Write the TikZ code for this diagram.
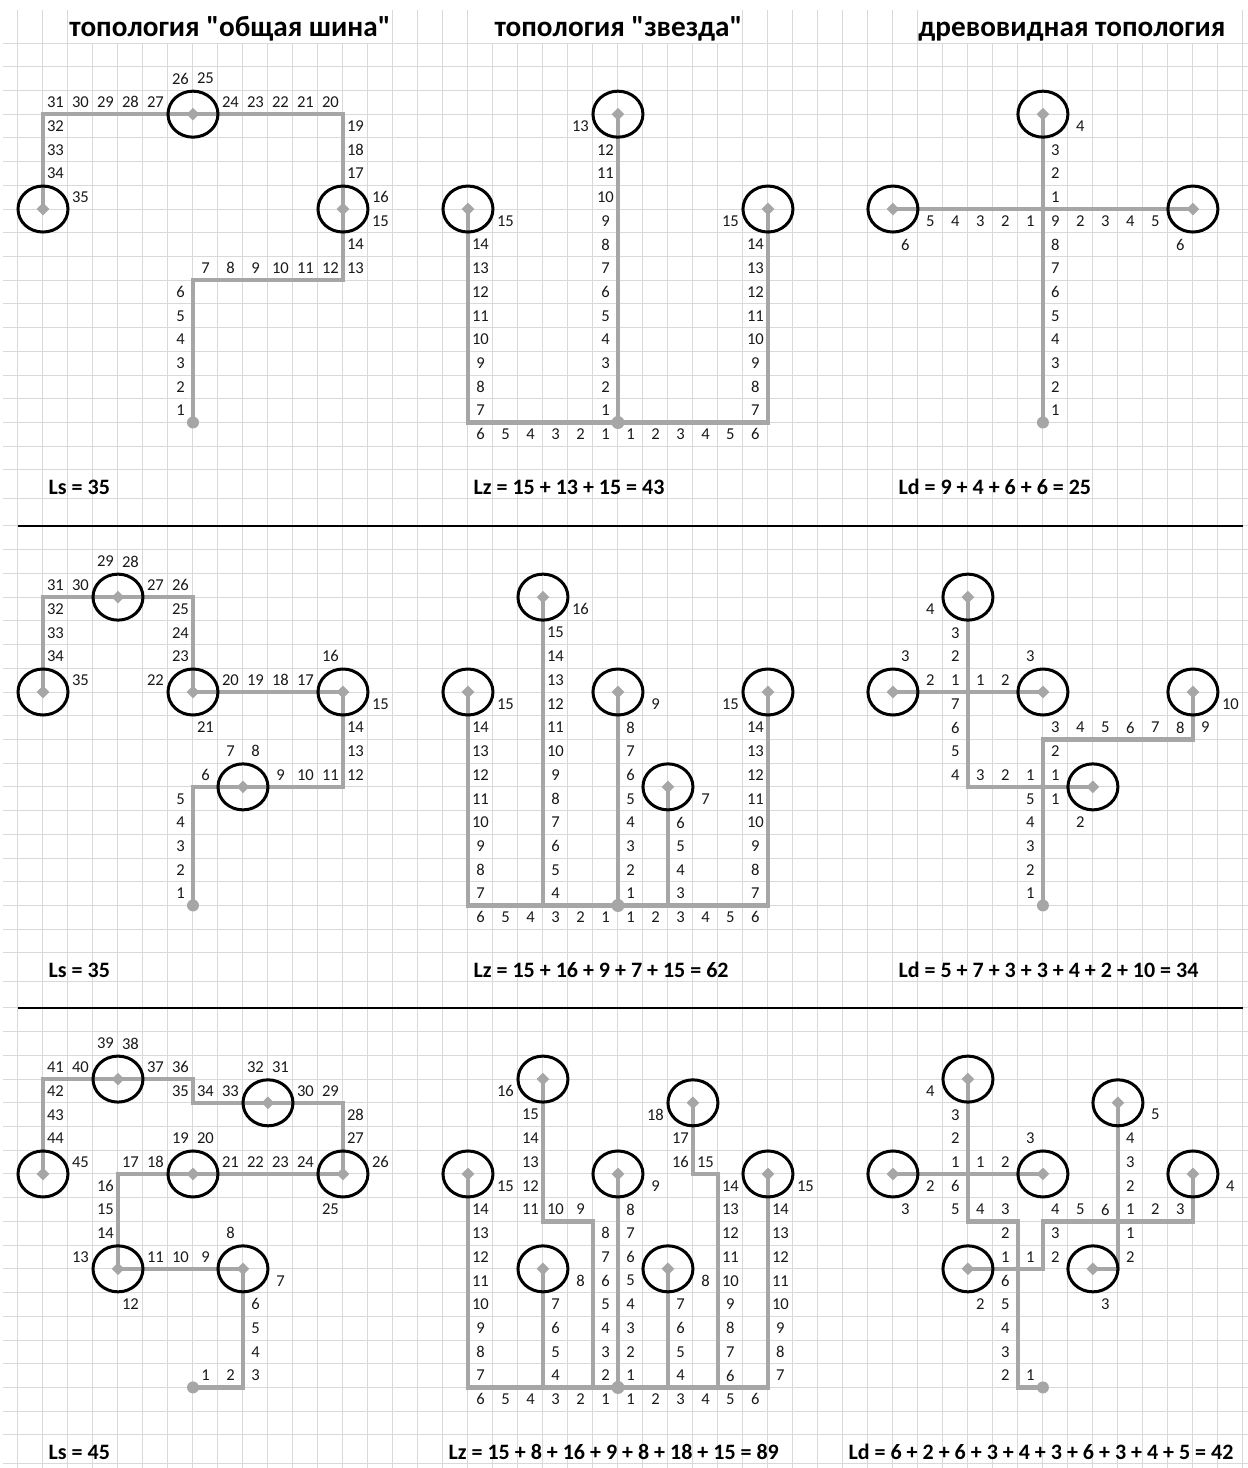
\documentclass[tikz,border=0pt]{standalone}
\usepackage{fontspec}
\setmainfont{Carlito}[Ligatures=TeXOff]
\usetikzlibrary{shapes.geometric}

\definecolor{cablegray}{RGB}{166,166,166}
\definecolor{gridgray}{RGB}{217,217,217}

\tikzset{
  gridline/.style={draw=gridgray, line width=0.5pt},
  sepline/.style={draw=black, line width=1pt},
  cable/.style={draw=cablegray, line width=2.2pt},
  pc/.style={ellipse, draw=black, line width=1.5pt, minimum width=25pt, minimum height=23pt, inner sep=0pt},
  hub/.style={diamond, fill=cablegray, minimum size=6.5pt, inner sep=0pt},
  junc/.style={diamond, fill=cablegray, minimum size=4.5pt, inner sep=0pt},
  enddot/.style={circle, fill=cablegray, minimum size=6pt, inner sep=0pt},
  num/.style={font=\fontsize{8.3}{9}\selectfont, text=black!90, inner sep=0pt},
  ttl/.style={font=\fontsize{14.6}{17}\selectfont\bfseries, anchor=base, inner sep=0pt},
  sumline/.style={font=\fontsize{11}{13}\selectfont\bfseries, anchor=base west, inner sep=0pt},
}

% cell labels: column, row, text
\newcommand\cellnum[3]{\node[num] (n#1-#2) at (#1+.5,#2+.5) {#3};}
% a run down a column: column, first row, list
\newcommand\colnums[3]{\foreach \val [count=\idx from 0] in {#3}
  {\node[num] (n#1-#2-\idx) at (#1+.5,#2+\idx+.5) {\val};}}
% a run along a row: row, first column, list
\newcommand\rownums[3]{\foreach \val [count=\idx from 0] in {#3}
  {\node[num] (m#1-#2-\idx) at (#2+\idx+.5,#1+.5) {\val};}}
% workstation on a named coordinate
\newcommand\station[1]{\node[pc] (#1-pc) at (#1) {}; \node[hub] (#1-hub) at (#1) {};}
% grid rows of one section
\newcommand\rowlines{\foreach \r in {0,...,18} {\draw[gridline] (-0.6,\r) -- (49.2,\r);}
  \draw[gridline] (-0.6,19.22) -- (49.2,19.22);}

\begin{document}
\begin{tikzpicture}[x=12.5pt,y=-11.86pt]
\useasboundingbox (-0.72,-1.813) rectangle (49.2,60.08);

%grid
\foreach \c in {0,...,49} {\draw[gridline] (\c,0) -- (\c,60.08);}
\foreach \c in {0,1,2,15,16,17,18,29,30,31,32,33,34,35,36,49} {\draw[gridline] (\c,-1.39) -- (\c,0);}

%titles
\node[ttl] (title-bus) at (8.48,-0.28) {топология "общая шина"};
\node[ttl] (title-star) at (24.02,-0.28) {топология "звезда"};
\node[ttl] (title-tree) at (42.16,-0.28) {древовидная топология};

%%%%% row 1
\rowlines
%bus
\coordinate (s1) at (1,7);
\coordinate (s2) at (7,3);
\coordinate (s3) at (13,7);
\coordinate (sk) at (7,10);
\coordinate (se) at (7,16);
\draw[cable] (s1) |- (s2) -| (s3) |- (sk) -- (se);
\foreach \p in {s1,s2,s3} {\station{\p}}
\node[enddot] (se-dot) at (se) {};
\rownums{1}{6}{26,25}
\rownums{2}{1}{31,30,29,28,27}
\rownums{2}{8}{24,23,22,21,20}
\colnums{1}{3}{32,33,34}
\cellnum{2}{6}{35}
\colnums{13}{3}{19,18,17}
\colnums{14}{6}{16,15}
\colnums{13}{8}{14,13}
\rownums{9}{7}{7,8,9,10,11,12}
\colnums{6}{10}{6,...,1}
%star
\coordinate (t0) at (24,16);
\coordinate (t1) at (18,7);
\coordinate (t2) at (24,3);
\coordinate (t3) at (30,7);
\draw[cable] (t1) |- (t0) -| (t3);
\draw[cable] (t2) -- (t0);
\foreach \p in {t1,t2,t3} {\station{\p}}
\node[enddot, minimum size=6.5pt] (t0-dot) at (t0) {};
\cellnum{22}{3}{13}
\colnums{23}{4}{12,...,1}
\cellnum{19}{7}{15}
\colnums{18}{8}{14,...,7}
\cellnum{28}{7}{15}
\colnums{29}{8}{14,...,7}
\rownums{16}{18}{6,5,4,3,2,1,1,2,3,4,5,6}
%tree
\coordinate (d1) at (41,3);
\coordinate (d2) at (35,7);
\coordinate (d3) at (47,7);
\coordinate (dj) at (41,7);
\coordinate (de) at (41,16);
\draw[cable] (d1) -- (de);
\draw[cable] (d2) -- (d3);
\foreach \p in {d1,d2,d3} {\station{\p}}
\node[junc] (dj-hub) at (dj) {};
\node[enddot] (de-dot) at (de) {};
\cellnum{42}{3}{4}
\colnums{41}{4}{3,2,1,9,8,7,6,5,4,3,2,1}
\rownums{7}{36}{5,4,3,2,1}
\rownums{7}{42}{2,3,4,5}
\cellnum{35}{8}{6}
\cellnum{46}{8}{6}
%sums
\node[sumline] (sum-bus1) at (1.21,19.05) {Ls = 35};
\node[sumline] (sum-star1) at (18.21,19.05) {Lz = 15 + 13 + 15 = 43};
\node[sumline] (sum-tree1) at (35.21,19.05) {Ld = 9 + 4 + 6 + 6 = 25};

%%%%% row 2
\begin{scope}[yshift=-241.5pt]
\rowlines
\draw[sepline] (0,0) -- (49,0);
%bus
\coordinate (b1) at (1,7);
\coordinate (b2) at (4,3);
\coordinate (b3) at (7,7);
\coordinate (b4) at (13,7);
\coordinate (b5) at (9,11);
\coordinate (bk) at (7,11);
\coordinate (be) at (7,16);
\draw[cable] (b1) |- (b2) -| (b3) -- (b4) |- (b5) -- (bk) -- (be);
\foreach \p in {b1,b2,b3,b4,b5} {\station{\p}}
\node[enddot] (be-dot) at (be) {};
\rownums{1}{3}{29,28}
\rownums{2}{1}{31,30}
\rownums{2}{5}{27,26}
\colnums{1}{3}{32,33,34}
\cellnum{2}{6}{35}
\colnums{6}{3}{25,24,23}
\cellnum{5}{6}{22}
\cellnum{7}{8}{21}
\rownums{6}{8}{20,19,18,17}
\cellnum{12}{5}{16}
\cellnum{14}{7}{15}
\colnums{13}{8}{14,13,12}
\rownums{10}{10}{9,10,11}
\rownums{9}{8}{7,8}
\cellnum{7}{10}{6}
\colnums{6}{11}{5,...,1}
%star
\coordinate (z0) at (24,16);
\coordinate (z1) at (18,7);
\coordinate (z2) at (21,3);
\coordinate (z3) at (24,7);
\coordinate (z4) at (26,11);
\coordinate (z5) at (30,7);
\draw[cable] (z1) |- (z0) -| (z5);
\foreach \p in {z2,z3,z4} {\draw[cable] (\p) -- (\p |- z0);}
\foreach \p in {z1,z2,z3,z4,z5} {\station{\p}}
\node[enddot, minimum size=6.5pt] (z0-dot) at (z0) {};
\cellnum{22}{3}{16}
\colnums{21}{4}{15,...,4}
\cellnum{19}{7}{15}
\colnums{18}{8}{14,...,7}
\cellnum{25}{7}{9}
\colnums{24}{8}{8,...,1}
\cellnum{27}{11}{7}
\colnums{26}{12}{6,...,3}
\cellnum{28}{7}{15}
\colnums{29}{8}{14,...,7}
\rownums{16}{18}{6,5,4,3,2,1,1,2,3,4,5,6}
%tree
\coordinate (w1) at (38,3);
\coordinate (w2) at (35,7);
\coordinate (w3) at (41,7);
\coordinate (w4) at (47,7);
\coordinate (w5) at (43,11);
\coordinate (wj1) at (38,7);
\coordinate (wj2) at (41,11);
\coordinate (wm) at (41,9);
\coordinate (we) at (41,16);
\draw[cable] (w2) -- (w3);
\draw[cable] (w1) |- (w5);
\draw[cable] (we) -- (wm) -| (w4);
\foreach \p in {w1,w2,w3,w4,w5} {\station{\p}}
\foreach \p in {wj1,wj2} {\node[junc] (\p-hub) at (\p) {};}
\node[enddot] (we-dot) at (we) {};
\cellnum{36}{3}{4}
\colnums{37}{4}{3,2,1,7,6,5,4}
\cellnum{35}{5}{3}
\cellnum{36}{6}{2}
\rownums{6}{38}{1,2}
\cellnum{40}{5}{3}
\rownums{10}{38}{3,2,1,1}
\rownums{8}{41}{3,4,5,6,7,8,9}
\cellnum{48}{7}{10}
\cellnum{41}{9}{2}
\rownums{11}{40}{5,1}
\cellnum{42}{12}{2}
\colnums{40}{12}{4,3,2,1}
%sums
\node[sumline] (sum-bus2) at (1.21,19.05) {Ls = 35};
\node[sumline] (sum-star2) at (18.21,19.05) {Lz = 15 + 16 + 9 + 7 + 15 = 62};
\node[sumline] (sum-tree2) at (35.21,19.05) {Ld = 5 + 7 + 3 + 3 + 4 + 2 + 10 = 34};
\end{scope}

%%%%% row 3
\begin{scope}[yshift=-482.5pt]
\rowlines
\draw[sepline] (0,0) -- (49,0);
%bus
\coordinate (q1) at (4,3);
\coordinate (q2) at (10,4);
\coordinate (q3) at (1,7);
\coordinate (q4) at (7,7);
\coordinate (q5) at (13,7);
\coordinate (q6) at (4,11);
\coordinate (q7) at (9,11);
\coordinate (qb) at (7,4);
\coordinate (qc) at (4,7);
\coordinate (qe) at (7,16);
\draw[cable] (q3) |- (q1) -| (qb) -- (q2) -| (q5) -- (qc) -- (q6) -- (q7) |- (qe);
\foreach \p in {q1,q2,q3,q4,q5,q6,q7} {\station{\p}}
\node[enddot] (qe-dot) at (qe) {};
\rownums{1}{3}{39,38}
\rownums{2}{1}{41,40}
\rownums{2}{5}{37,36}
\rownums{2}{9}{32,31}
\colnums{1}{3}{42,43,44}
\cellnum{2}{6}{45}
\rownums{3}{6}{35,34,33}
\rownums{3}{11}{30,29}
\colnums{13}{4}{28,27}
\cellnum{14}{6}{26}
\cellnum{12}{8}{25}
\rownums{5}{6}{19,20}
\rownums{6}{4}{17,18}
\rownums{6}{8}{21,22,23,24}
\colnums{3}{7}{16,15,14}
\cellnum{2}{10}{13}
\cellnum{4}{12}{12}
\rownums{10}{5}{11,10,9}
\cellnum{8}{9}{8}
\cellnum{10}{11}{7}
\colnums{9}{12}{6,5,4,3}
\rownums{15}{7}{1,2}
%star
\coordinate (x0) at (24,16);
\coordinate (x1) at (21,3);
\coordinate (x2) at (27,4);
\coordinate (x3) at (18,7);
\coordinate (x4) at (24,7);
\coordinate (x5) at (30,7);
\coordinate (x6) at (21,11);
\coordinate (x7) at (26,11);
\coordinate (xa) at (23,9);
\coordinate (xb) at (28,7);
\draw[cable] (x3) |- (x0) -| (x5);
\draw[cable] (x1) |- (xa) -- (xa |- x0);
\draw[cable] (x2) |- (xb) -- (xb |- x0);
\foreach \p in {x4,x6,x7} {\draw[cable] (\p) -- (\p |- x0);}
\foreach \p in {x1,x2,x3,x4,x5,x6,x7} {\station{\p}}
\node[enddot, minimum size=6.5pt] (x0-dot) at (x0) {};
\cellnum{19}{3}{16}
\colnums{20}{4}{15,14,13,12,11}
\rownums{8}{21}{10,9}
\cellnum{19}{7}{15}
\colnums{18}{8}{14,...,7}
\cellnum{22}{11}{8}
\colnums{21}{12}{7,6,5,4}
\colnums{23}{9}{8,...,2}
\cellnum{25}{7}{9}
\colnums{24}{8}{8,...,1}
\cellnum{27}{11}{8}
\colnums{26}{12}{7,6,5,4}
\cellnum{25}{4}{18}
\colnums{26}{5}{17,16}
\cellnum{27}{6}{15}
\colnums{28}{7}{14,...,6}
\cellnum{31}{7}{15}
\colnums{30}{8}{14,...,7}
\rownums{16}{18}{6,5,4,3,2,1,1,2,3,4,5,6}
%tree
\coordinate (y1) at (38,3);
\coordinate (y2) at (44,4);
\coordinate (y3) at (35,7);
\coordinate (y4) at (41,7);
\coordinate (y5) at (47,7);
\coordinate (y6) at (38,11);
\coordinate (y7) at (43,11);
\coordinate (yb) at (40,9);
\coordinate (yf) at (41,9);
\coordinate (ye) at (41,16);
\coordinate (yj1) at (38,7);
\coordinate (yj2) at (40,11);
\coordinate (yj3) at (44,9);
\draw[cable] (y3) -- (y4);
\draw[cable] (y1) |- (yb) |- (ye);
\draw[cable] (y6) -| (yf) -| (y5);
\draw[cable] (y2) |- (y7);
\foreach \p in {y1,y2,y3,y4,y5,y6,y7} {\station{\p}}
\foreach \p in {yj1,yj2,yj3} {\node[junc] (\p-hub) at (\p) {};}
\node[enddot] (ye-dot) at (ye) {};
\cellnum{36}{3}{4}
\colnums{37}{4}{3,2,1,6,5}
\rownums{6}{38}{1,2}
\cellnum{40}{5}{3}
\cellnum{36}{7}{2}
\cellnum{35}{8}{3}
\rownums{8}{38}{4,3}
\rownums{8}{41}{4,5,6,1,2,3}
\cellnum{48}{7}{4}
\cellnum{45}{4}{5}
\colnums{44}{5}{4,3,2}
\colnums{44}{9}{1,2}
\colnums{39}{9}{2,1,6,5,4,3,2}
\rownums{10}{40}{1,2}
\cellnum{41}{9}{3}
\cellnum{38}{12}{2}
\cellnum{43}{12}{3}
\cellnum{40}{15}{1}
%sums
\node[sumline] (sum-bus3) at (1.21,19.05) {Ls = 45};
\node[sumline] (sum-star3) at (17.21,19.05) {Lz = 15 + 8 + 16 + 9 + 8 + 18 + 15 = 89};
\node[sumline] (sum-tree3) at (33.21,19.05) {Ld = 6 + 2 + 6 + 3 + 4 + 3 + 6 + 3 + 4 + 5 = 42};
\end{scope}
\end{tikzpicture}
\end{document}
